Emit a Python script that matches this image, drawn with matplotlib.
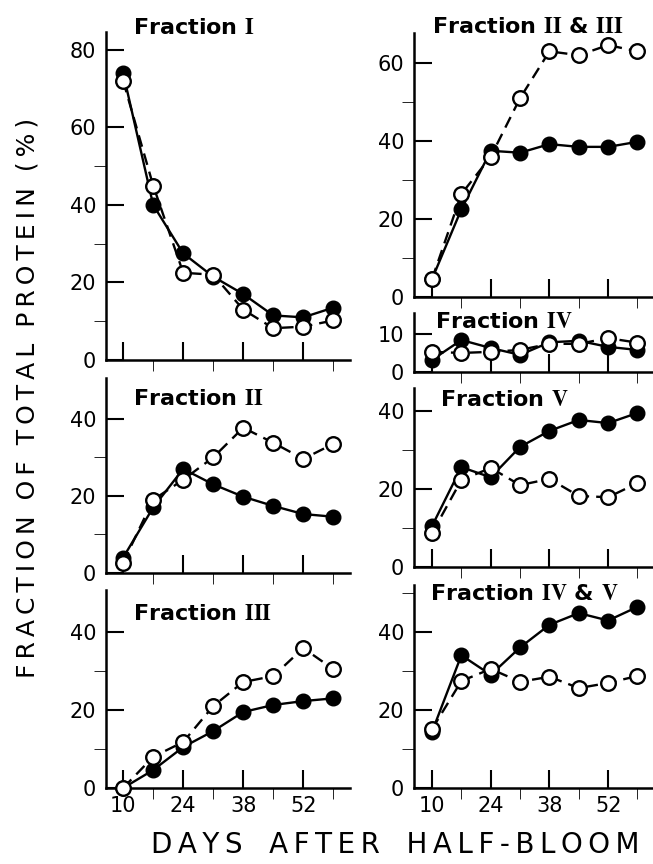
import matplotlib
matplotlib.use('Agg')
import matplotlib.pyplot as plt

plt.rcParams['font.family'] = ['DejaVu Sans']
plt.rcParams['mathtext.fontset'] = 'stix'

W, H = 653, 864

days = [10, 17, 24, 31, 38, 45, 52, 59]
day_labels = ['10', '24', '38', '52']

# closed circles (solid line) and open circles (dashed line), % of total protein
frac1_closed = [74, 40, 27.5, 21.5, 17, 11.5, 11, 13.5]
frac1_open = [72, 45, 22.5, 22, 13, 8.2, 8.6, 10.2]

frac2_closed = [4, 17, 27, 23, 19.8, 17.4, 15.3, 14.6]
frac2_open = [2.7, 19, 24.2, 30, 37.7, 33.8, 29.6, 33.5]

frac3_closed = [0, 4.6, 10.5, 14.6, 19.5, 21.3, 22.3, 23]
frac3_open = [0, 8, 11.8, 21, 27.2, 28.7, 35.9, 30.5]

frac23_closed = [4.6, 22.5, 37.5, 37, 39.2, 38.5, 38.5, 39.8]
frac23_open = [4.6, 26.4, 36, 51, 63, 62, 64.6, 63]

frac4_closed = [3.2, 8.4, 6.3, 4.5, 7.8, 8.2, 6.6, 5.8]
frac4_open = [5.3, 5, 5.3, 5.8, 7.4, 7.4, 8.9, 7.7]

frac5_closed = [10.5, 25.6, 23, 30.8, 34.9, 37.7, 36.9, 39.5]
frac5_open = [8.7, 22.3, 25.4, 21, 22.6, 18.2, 17.9, 21.5]

frac45_closed = [14.4, 34, 29, 36, 41.8, 44.8, 42.9, 46.4]
frac45_open = [15.1, 27.4, 30.5, 27.2, 28.5, 25.6, 26.9, 28.7]


def px_rect(l, t, r, b):
    return [l / W, 1 - b / H, (r - l) / W, (b - t) / H]


def spaced(s):
    # thin spaces between letters, plain spaces between words
    return ' '.join('\u2009'.join(w) for w in s.split(' '))


fig = plt.figure(figsize=(W / 100, H / 100), dpi=100)

# name, closed, open, (left, top, right, bottom) px, xlim, ymax, major, minor, title xy px, bottom row
panels = [
    (r'Fraction $\mathbf{I}$', frac1_closed, frac1_open, (106, 32, 350, 360), (6.0, 62.9), 84.6,
     [0, 20, 40, 60, 80], [10, 30, 50], (133, 34), False),
    (r'Fraction $\mathbf{II}$', frac2_closed, frac2_open, (106, 378, 350, 573), (6.0, 62.9), 50.6,
     [0, 20, 40], [10, 30], (133, 405), False),
    (r'Fraction $\mathbf{III}$', frac3_closed, frac3_open, (106, 590, 350, 788), (6.0, 62.9), 50.8,
     [0, 20, 40], [10, 30], (133, 620), True),
    (r'Fraction $\mathbf{II}$ & $\mathbf{III}$', frac23_closed, frac23_open, (414, 33, 653, 297), (5.7, 62.7), 67.7,
     [0, 20, 40, 60], [10, 30, 50], (432, 33), False),
    (r'Fraction $\mathbf{IV}$', frac4_closed, frac4_open, (414, 313, 653, 372), (5.7, 62.7), 15.5,
     [0, 10], [], (435, 328), False),
    (r'Fraction $\mathbf{V}$', frac5_closed, frac5_open, (414, 388, 653, 567), (5.7, 62.7), 45.9,
     [0, 20, 40], [10, 30], (440, 406), False),
    (r'Fraction $\mathbf{IV}$ & $\mathbf{V}$', frac45_closed, frac45_open, (414, 585, 653, 788), (5.7, 62.7), 52,
     [0, 20, 40], [10, 30, 50], (430, 600), True),
]

for name, closed, opn, rect, xlim, ymax, major, minor, tpos, bottom in panels:
    ax = fig.add_axes(px_rect(*rect))
    ax.plot(days, opn, color='black', lw=1.7, ls=(0, (5, 3)), zorder=2, clip_on=False)
    ax.plot(days, closed, color='black', lw=1.7, marker='o', ms=10.5,
            mfc='black', mec='black', zorder=3, clip_on=False)
    ax.plot(days, opn, ls='none', marker='o', ms=10.5, mfc='white', mec='black',
            mew=1.7, zorder=4, clip_on=False)
    ax.set_xlim(*xlim)
    ax.set_ylim(0, ymax)
    for s in ['top', 'right']:
        ax.spines[s].set_visible(False)
    for s in ['left', 'bottom']:
        ax.spines[s].set_linewidth(1.8)
    ax.set_yticks(major)
    ax.set_yticks(minor, minor=True)
    ax.set_xticks([10, 24, 38, 52])
    ax.set_xticks([17, 31, 45, 59], minor=True)
    ax.tick_params(direction='in', width=1.5, labelsize=15)
    ax.tick_params(axis='y', which='major', length=13, pad=7)
    ax.tick_params(axis='y', which='minor', length=9)
    ax.tick_params(axis='x', which='major', length=13, pad=6)
    ax.tick_params(axis='x', which='minor', length=8)
    if bottom:
        ax.set_xticklabels(day_labels)
    else:
        ax.set_xticklabels([])
    fig.text(tpos[0] / W, 1 - tpos[1] / H, name, fontsize=16, fontweight='bold',
             va='baseline', ha='left')

fig.text(395 / W, 1 - 845 / H, spaced('DAYS   AFTER   HALF-BLOOM'), fontsize=20,
         ha='center', va='center')
fig.text(28 / W, 1 - 398 / H, spaced('FRACTION  OF  TOTAL  PROTEIN  (%)'), fontsize=18,
         ha='center', va='center', rotation=90)

fig.savefig('out.png', dpi=100)
